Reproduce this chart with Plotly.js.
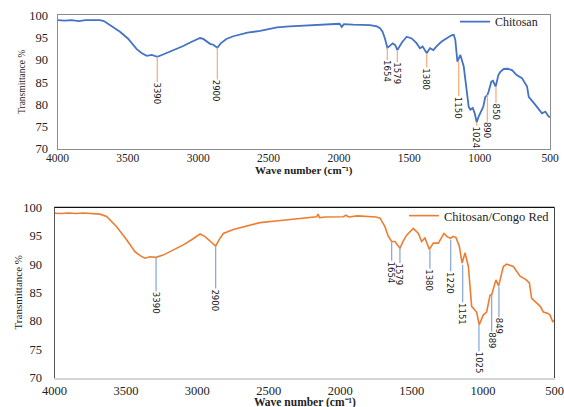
<!DOCTYPE html>
<html>
<head>
<meta charset="utf-8">
<script src="https://cdn.plot.ly/plotly-3.0.1.min.js"></script>
<style>html,body{margin:0;padding:0;background:#fff;}#chart{width:564px;height:407px;}</style>
</head>
<body>
<div id="chart"></div>
<script>
// ---- Data: Chitosan (top) ----
const wnTop = [4000,3950,3900,3850,3800,3750,3700,3670,3620,3556,3500,3437,3400,3366,3330,3291,3250,3200,3150,3106,3050,2987,2964,2935,2916,2893,2864,2840,2800,2750,2700,2650,2560,2500,2440,2350,2200,2100,2050,2010,1995,1980,1965,1900,1850,1780,1730,1708,1690,1673,1656,1630,1618,1600,1585,1550,1518,1483,1450,1424,1405,1376,1353,1329,1305,1270,1234,1200,1184,1173,1158,1137,1113,1092,1078,1066,1049,1035,1021,1008,997,974,960,945,936,917,905,886,867,853,829,800,770,737,699,680,663,651,642,604,594,557,533,520,509,500];
const tChitosan = [98.9,98.8,98.9,98.7,98.9,98.9,98.9,98.7,97.7,96.3,94.8,92.4,91.5,90.9,91.1,90.7,91.2,91.8,92.4,93.1,94.0,94.9,94.7,94.0,93.6,93.4,92.7,93.7,94.7,95.3,95.7,96.1,96.5,96.9,97.3,97.5,97.7,97.8,97.9,98.0,98.1,97.4,98.0,97.9,97.8,97.8,97.5,97.1,96.3,94.8,92.7,93.4,93.7,93.3,92.2,94.0,95.2,94.8,93.8,92.6,93.0,91.5,92.6,92.2,93.1,94.1,94.8,95.5,95.6,94.5,89.6,91.1,88.5,83.2,79.5,78.8,79.2,78.0,76.0,77.2,78.0,79.5,81.7,82.1,82.9,85.1,85.3,84.0,86.6,87.3,87.95,88.0,87.7,86.6,85.9,85.0,84.0,81.7,81.3,79.9,79.5,78.0,78.4,77.6,77.25,77.2];

// ---- Data: Chitosan/Congo Red (bottom) ----
const wnBot = [4000,3950,3900,3850,3800,3750,3682,3635,3565,3495,3437,3400,3367,3331,3289,3240,3191,3150,3098,3040,2981,2946,2911,2890,2872,2845,2818,2748,2660,2562,2450,2328,2250,2165,2155,2145,2100,2050,1978,1960,1940,1880,1792,1750,1721,1700,1687,1665,1651,1640,1617,1600,1582,1560,1535,1488,1453,1430,1407,1376,1348,1313,1290,1274,1250,1227,1210,1190,1166,1147,1126,1103,1080,1057,1045,1027,998,975,951,940,910,891,858,835,788,741,700,676,660,625,600,578,550,532,513,500];
const tCongoRed = [98.95,98.9,99.0,98.9,99.0,98.9,98.8,98.4,96.6,94.3,92.2,91.5,91.05,91.3,91.2,91.6,92.2,92.7,93.4,94.3,95.3,94.85,94.0,93.6,93.2,94.4,95.4,96.1,96.7,97.3,97.6,97.9,98.1,98.35,98.8,98.2,98.3,98.3,98.35,98.6,98.3,98.5,98.45,98.3,98.1,97.3,96.6,95.0,94.3,94.0,94.0,93.4,92.8,94.0,95.1,96.3,95.4,94.0,94.6,92.6,93.7,93.7,94.6,95.4,94.8,94.55,94.9,94.7,93.1,90.2,92.0,89.6,82.6,82.0,81.6,79.35,81.1,81.6,84.6,84.6,87.25,86.2,89.6,90.0,89.6,87.9,87.3,86.7,84.0,83.2,82.6,81.6,81.4,81.1,79.9,80.1];

// ---- Peak labels ----
const peakLabelsTop = ["3390","2900","1654","1579","1380","1150","1024","890","850"];
const peakXTop = [3291,2864,1656,1585,1376,1149,1021,945,884];
const peakYTop = [90.7,92.7,92.7,92.2,91.5,89.6,76.0,82.1,84.0];
const labelYTop = [82.4,83.0,87.4,86.9,85.7,79.3,72.65,74.2,78.4];

const peakLabelsBot = ["3390","2900","1654","1579","1380","1220","1151","1025","889","849"];
const peakXBot = [3289,2872,1640,1582,1372,1227,1143,1029,940,889];
const peakYBot = [91.2,93.2,94.0,92.8,92.5,94.3,89.9,79.35,84.6,86.1];
const labelYBot = [83.2,83.7,88.6,88.2,87.2,86.75,81.3,72.7,76.7,79.2];

const xTicks = [4000,3500,3000,2500,2000,1500,1000,500];
const yTicks = [70,75,80,85,90,95,100];

const xTitle = 'Wave number (cm⁻¹)';
const yTitle = 'Transmittance %';

const W = 564, H = 407;
const serif = '"Liberation Serif", "Times New Roman", serif';
const narrow = '"Liberation Sans Narrow", "DejaVu Sans Condensed", "Liberation Sans", sans-serif';

function peakAnns(labels, xs, ys, ty, xr, yr, color) {
  return labels.map((t, i) => ({
    text: t, x: xs[i], y: ys[i], ax: xs[i], ay: ty[i],
    xref: xr, yref: yr, axref: xr, ayref: yr,
    showarrow: true, arrowhead: 0, arrowwidth: 1.3, arrowcolor: color,
    standoff: 0, startstandoff: 0,
    textangle: 90, borderpad: 0,
    font: {family: narrow, size: 9.5, color: '#1a1a1a'}
  }));
}

const traces = [
  {x: wnTop, y: tChitosan, type: 'scatter', mode: 'lines', name: 'Chitosan',
   line: {color: '#4472C4', width: 1.8}, xaxis: 'x', yaxis: 'y', legend: 'legend'},
  {x: wnBot, y: tCongoRed, type: 'scatter', mode: 'lines', name: 'Chitosan/Congo Red',
   line: {color: '#ED7D31', width: 1.6}, xaxis: 'x2', yaxis: 'y2', legend: 'legend2'}
];

const xCommon = {
  range: [4000, 500], autorange: false, tickvals: xTicks, ticks: '',
  showgrid: false, zeroline: false, showline: true,
  tickfont: {family: serif, size: 12.5, color: '#222'}
};
const yCommon = {
  range: [70, 100], autorange: false, tickvals: yTicks, ticks: '',
  showgrid: false, zeroline: false, showline: true,
  tickfont: {family: serif, size: 12.5, color: '#222'}
};

const titleAnns = [
  {text: '<b>' + xTitle + '</b>', xref: 'paper', yref: 'paper', x: 303.75/W, y: 1 - 170.5/H,
   xanchor: 'center', yanchor: 'middle', showarrow: false, font: {family: serif, size: 11, color: '#222'}},
  {text: '<b>' + xTitle + '</b>', xref: 'paper', yref: 'paper', x: 304.5/W, y: 1 - 402.5/H,
   xanchor: 'center', yanchor: 'middle', showarrow: false, font: {family: serif, size: 11.5, color: '#222'}},
  {text: yTitle, xref: 'paper', yref: 'paper', x: 22/W, y: 1 - 82/H, textangle: -90,
   xanchor: 'center', yanchor: 'middle', showarrow: false, font: {family: serif, size: 9.5, color: '#222'}},
  {text: yTitle, xref: 'paper', yref: 'paper', x: 17/W, y: 1 - 292.5/H, textangle: -90,
   xanchor: 'center', yanchor: 'middle', showarrow: false, font: {family: serif, size: 11, color: '#222'}}
];

const layout = {
  width: W, height: H,
  margin: {l: 0, r: 0, t: 0, b: 0},
  paper_bgcolor: '#fff', plot_bgcolor: '#fff',
  showlegend: true,
  xaxis: Object.assign({}, xCommon, {
    domain: [57.5/W, 550/W], anchor: 'y', mirror: true, linecolor: '#8c8c8c', linewidth: 1,
    ticklabelstandoff: -2,
    tickfont: {family: serif, size: 11.5, color: '#222'}
  }),
  yaxis: Object.assign({}, yCommon, {
    domain: [1 - 149/H, 1 - 15.3/H], anchor: 'x', mirror: true, linecolor: '#8c8c8c', linewidth: 1,
    ticklabelstandoff: 6
  }),
  xaxis2: Object.assign({}, xCommon, {
    domain: [54.5/W, 554.5/W], anchor: 'y2', linecolor: '#d4d4d4', linewidth: 1.5
  }),
  yaxis2: Object.assign({}, yCommon, {
    domain: [1 - 378/H, 1 - 207.3/H], anchor: 'x2', linecolor: '#555', linewidth: 1,
    ticklabelstandoff: 9
  }),
  shapes: [
    {type: 'line', xref: 'x2 domain', yref: 'y2 domain', x0: 0, x1: 1, y0: 1, y1: 1, line: {color: '#111', width: 1.2}},
    {type: 'line', xref: 'x2 domain', yref: 'y2 domain', x0: 1, x1: 1, y0: 0, y1: 1, line: {color: '#444', width: 1}}
  ],
  legend: {x: 543/W, xanchor: 'right', y: 1 - 21.7/H, yanchor: 'middle', bgcolor: 'rgba(0,0,0,0)',
           font: {family: serif, size: 12, color: '#222'}, borderwidth: 0},
  legend2: {x: 555/W, xanchor: 'right', y: 1 - 216/H, yanchor: 'middle', bgcolor: 'rgba(0,0,0,0)',
            font: {family: serif, size: 12.5, color: '#222'}, borderwidth: 0},
  annotations: titleAnns
    .concat(peakAnns(peakLabelsTop, peakXTop, peakYTop, labelYTop, 'x', 'y', '#F4B183'))
    .concat(peakAnns(peakLabelsBot, peakXBot, peakYBot, labelYBot, 'x2', 'y2', '#8FAADC'))
};

Plotly.newPlot('chart', traces, layout, {displayModeBar: false, staticPlot: true});
</script>
</body>
</html>
